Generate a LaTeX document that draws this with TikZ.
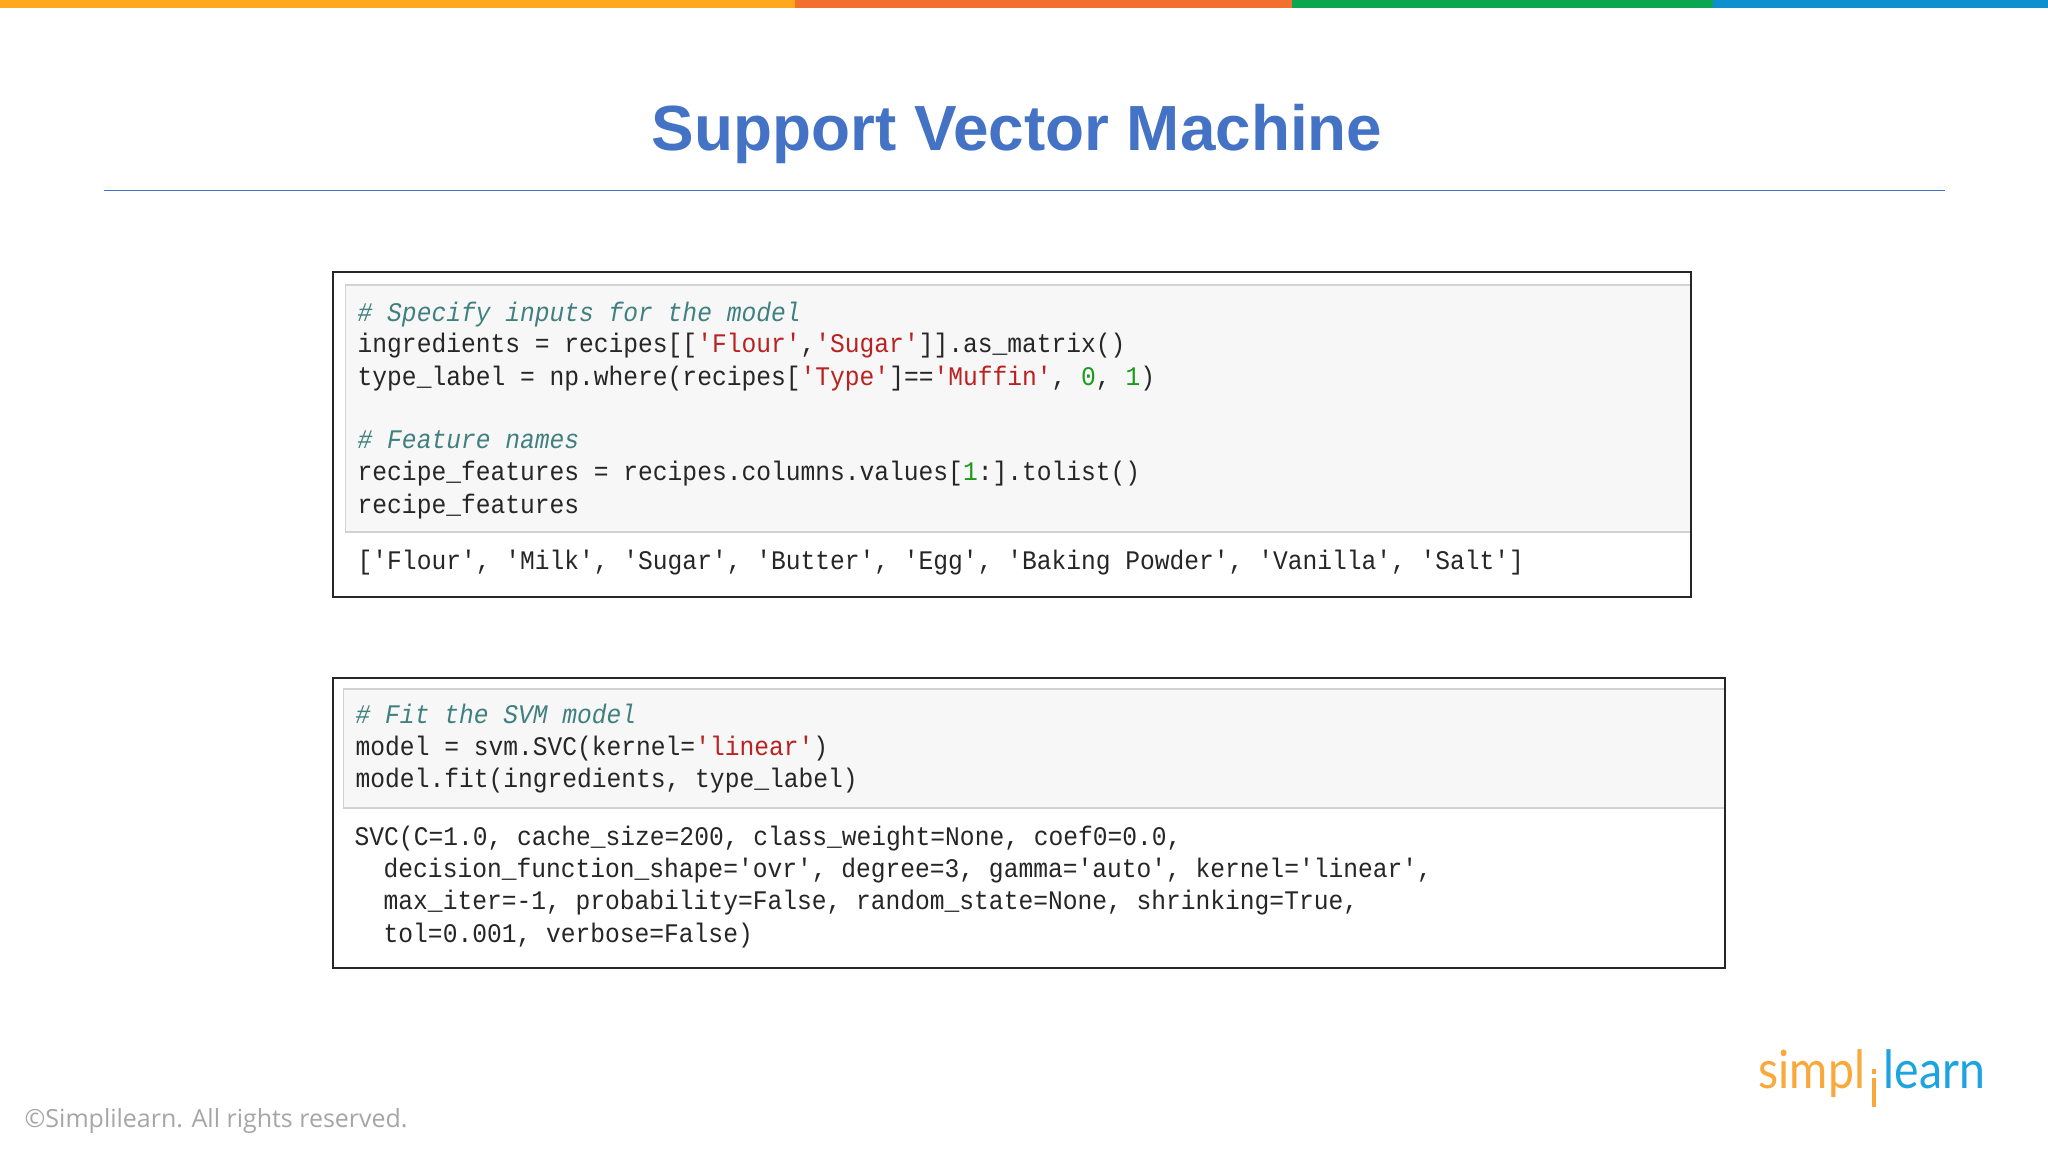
\documentclass[tikz,border=0pt]{standalone}
\usepackage{fontspec}
\usepackage{xcolor}
\setmainfont{Liberation Sans}
\newfontfamily\codefont[FakeStretch=0.917]{Liberation Mono}
\newfontfamily\footfont{Open Sans}
\newfontfamily\logofont[FakeStretch=0.88]{Lato}
\definecolor{titleblue}{HTML}{4472C4}
\definecolor{commentgreen}{HTML}{408080}
\definecolor{stringred}{HTML}{BA2121}
\definecolor{numgreen}{HTML}{1A9A1A}
\definecolor{cellgrey}{HTML}{F7F7F7}
\definecolor{cellline}{HTML}{D2D2D2}
\definecolor{logoorange}{HTML}{F9A83C}
\definecolor{logoblue}{HTML}{1CA3E0}
\definecolor{barorange}{HTML}{FFA81E}
\definecolor{barred}{HTML}{F26F2F}
\definecolor{bargreen}{HTML}{0BA650}
\definecolor{barblue}{HTML}{0E8FCF}
\newcommand{\cmt}[1]{\textcolor{commentgreen}{\itshape #1}}
\newcommand{\str}[1]{\textcolor{stringred}{#1}}
\newcommand{\num}[1]{\textcolor{numgreen}{#1}}
\tikzset{
	codeline/.style={anchor=base west,inner sep=0pt,text=black!85,font=\codefont\fontsize{7.63pt}{9pt}\selectfont},
	outerbox/.style={draw=black!85,line width=0.5pt},
	codecell/.style={fill=cellgrey,draw=cellline,line width=0.4pt},
	logotext/.style={inner sep=0pt,font=\logofont\fontsize{15pt}{18pt}\selectfont},
}
\begin{document}
\begin{tikzpicture}[x=0.01cm,y=-0.01cm]

	\useasboundingbox (0,0) rectangle (2048,1152);
	\fill[white] (0,0) rectangle (2048,1152);

	\fill[barorange] (0,0) rectangle (795,8);
	\fill[barred] (795,0) rectangle (1292,8);
	\fill[bargreen] (1292,0) rectangle (1713,8);
	\fill[barblue] (1713,0) rectangle (2048,8);

	\node (title)[text=titleblue,font=\bfseries\fontsize{18.15pt}{22pt}\selectfont] at (1017,134) {Support Vector Machine};
	\draw[titleblue,line width=0.4pt] (104,190.5) -- (1945,190.5);

	%first notebook cell
	\draw[codecell] (345.5,285) rectangle (1691,532);
	\draw[outerbox] (333,272) rectangle (1691,597);
	\node (c1)[codeline] at (357,322) {\cmt{\# Specify inputs for the model}};
	\node (c2)[codeline] at (357,353) {ingredients = recipes[[\str{'Flour'},\str{'Sugar'}]].as\_matrix()};
	\node (c3)[codeline] at (357,385.5) {type\_label = np.where(recipes[\str{'Type'}]==\str{'Muffin'}, \num{0}, \num{1})};
	\node (c4)[codeline] at (357,449) {\cmt{\# Feature names}};
	\node (c5)[codeline] at (357,481) {recipe\_features = recipes.columns.values[\num{1}:].tolist()};
	\node (c6)[codeline] at (357,513.5) {recipe\_features};
	\node (c7)[codeline] at (357,570) {['Flour', 'Milk', 'Sugar', 'Butter', 'Egg', 'Baking Powder', 'Vanilla', 'Salt']};

	%second notebook cell
	\draw[codecell] (343.5,689) rectangle (1725,808);
	\draw[outerbox] (333,678) rectangle (1725,968);
	\node (d1)[codeline] at (355,723) {\cmt{\# Fit the SVM model}};
	\node (d2)[codeline] at (355,755) {model = svm.SVC(kernel=\str{'linear'})};
	\node (d3)[codeline] at (355,787) {model.fit(ingredients, type\_label)};
	\node (d4)[codeline] at (354,845) {SVC(C=1.0, cache\_size=200, class\_weight=None, coef0=0.0,};
	\node (d5)[codeline] at (383,877) {decision\_function\_shape='ovr', degree=3, gamma='auto', kernel='linear',};
	\node (d6)[codeline] at (383,909) {max\_iter=-1, probability=False, random\_state=None, shrinking=True,};
	\node (d7)[codeline] at (383,942) {tol=0.001, verbose=False)};

	\node (foot)[anchor=base west,inner sep=0pt,text=black!35,font=\footfont\fontsize{7.1pt}{9pt}\selectfont] at (24,1127) {©Simplilearn. All rights reserved.};

	%logo
	\node (simpl)[logotext,anchor=base west,text=logoorange] at (1758,1088) {simpl};
	\node (learn)[logotext,anchor=base east,text=logoblue] at (1986,1088) {learn};
	\fill[logoorange] (1872,1078) rectangle (1876,1107);
	\fill[logoorange] (1872,1069) rectangle (1876,1074);

\end{tikzpicture}
\end{document}
